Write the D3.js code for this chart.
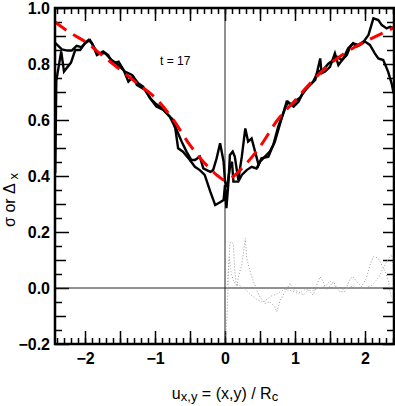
<!DOCTYPE html>
<html>
<head>
<meta charset="utf-8">
<script src="https://cdn.jsdelivr.net/npm/d3@7"></script>
<style>
  body { margin: 0; background: #fff; }
  svg text { font-family: "Liberation Sans", Arial, sans-serif; }
</style>
</head>
<body>
<div id="chart"></div>
<script>
// sigma / Delta_x profiles (u, value)
var sigmaU = [-2.43,-2.33,-2.25,-2.19,-2.12,-2.05,-2.0,-1.93,-1.86,-1.81,-1.71,-1.62,-1.55,-1.43,-1.33,-1.24,-1.17,-1.07,-1.0,-0.9,-0.81,-0.74,-0.69,-0.62,-0.55,-0.48,-0.43,-0.36,-0.31,-0.21,-0.17,-0.12,-0.07,-0.02,0.0,0.03,0.07,0.1,0.12,0.19,0.24,0.31,0.38,0.45,0.5,0.57,0.64,0.71,0.79,0.88,0.95,1.02,1.07,1.14,1.21,1.29,1.36,1.38,1.43,1.5,1.57,1.62,1.69,1.76,1.83,1.9,1.98,2.05,2.12,2.19,2.24,2.31,2.36,2.41];
var sigmaV = [0.876,0.852,0.848,0.848,0.865,0.86,0.874,0.886,0.856,0.838,0.838,0.814,0.802,0.773,0.761,0.731,0.719,0.678,0.66,0.642,0.618,0.6,0.564,0.523,0.487,0.457,0.457,0.469,0.427,0.415,0.421,0.463,0.517,0.451,0.38,0.36,0.43,0.451,0.38,0.38,0.404,0.421,0.433,0.427,0.451,0.469,0.487,0.52,0.59,0.665,0.654,0.671,0.679,0.707,0.725,0.743,0.82,0.767,0.773,0.79,0.838,0.796,0.82,0.856,0.874,0.868,0.88,0.904,0.963,0.957,0.939,0.927,0.933,0.927];

var deltaU = [-2.425,-2.41,-2.34,-2.3,-2.2,-2.14,-2.07,-2.0,-1.95,-1.9,-1.83,-1.74,-1.67,-1.6,-1.52,-1.45,-1.38,-1.31,-1.26,-1.14,-1.05,-0.98,-0.88,-0.79,-0.74,-0.71,-0.67,-0.6,-0.52,-0.43,-0.36,-0.29,-0.21,-0.14,-0.07,-0.02,0.0,0.02,0.05,0.07,0.11,0.14,0.19,0.24,0.29,0.33,0.38,0.43,0.48,0.52,0.62,0.69,0.76,0.86,0.9,0.98,1.05,1.1,1.17,1.26,1.33,1.4,1.48,1.55,1.6,1.67,1.74,1.79,1.83,1.88,1.93,2.0,2.07,2.14,2.19,2.26,2.33,2.38,2.41];
var deltaV = [0.41,0.74,0.845,0.773,0.805,0.85,0.85,0.874,0.886,0.874,0.832,0.845,0.832,0.802,0.808,0.779,0.737,0.755,0.725,0.707,0.671,0.648,0.636,0.612,0.588,0.57,0.499,0.487,0.463,0.433,0.421,0.404,0.344,0.296,0.306,0.314,0.368,0.285,0.38,0.475,0.487,0.469,0.386,0.469,0.57,0.523,0.534,0.487,0.439,0.463,0.469,0.511,0.576,0.642,0.665,0.648,0.665,0.69,0.713,0.737,0.773,0.779,0.802,0.814,0.826,0.814,0.832,0.862,0.874,0.862,0.868,0.88,0.868,0.838,0.82,0.814,0.773,0.731,0.695];

// model curve (red dashed)
var modelU = [-2.43,-2.2,-2.0,-1.75,-1.5,-1.25,-1.0,-0.75,-0.5,-0.25,-0.1,0.0,0.1,0.25,0.5,0.75,1.0,1.25,1.5,1.75,2.0,2.25,2.41];
var modelV = [0.95,0.91,0.88,0.83,0.78,0.73,0.68,0.605,0.51,0.435,0.40,0.385,0.395,0.43,0.505,0.60,0.67,0.74,0.80,0.845,0.88,0.91,0.93];

// residuals (grey dotted), right half only
var resid1U = [0.01,0.03,0.05,0.07,0.1,0.12,0.14,0.17,0.19,0.24,0.29,0.31,0.36,0.4,0.45,0.5,0.57,0.64,0.71,0.74,0.79,0.86,0.93,0.98,1.05,1.12,1.19,1.26,1.31,1.36,1.4,1.45,1.55,1.6,1.64,1.71,1.79,1.83,1.88,1.95,2.02,2.07,2.12,2.19,2.24,2.29,2.33,2.36,2.38];
var resid1V = [-0.17,-0.10,0.06,0.16,0.165,0.154,0.058,0.0,0.04,0.082,0.177,0.106,0.058,0.029,-0.007,-0.031,-0.055,-0.049,-0.067,-0.085,-0.043,-0.013,0.017,-0.007,-0.013,-0.025,-0.007,-0.025,0.011,0.04,0.023,-0.007,0.023,-0.001,-0.013,-0.013,0.035,0.04,0.023,0.005,0.035,0.082,0.112,0.106,0.082,0.058,0.029,-0.013,-0.037];
var resid2U = [0.03,0.06,0.09,0.13,0.2,0.27,0.35,0.45,0.55,0.65,0.75,0.85,0.95,1.05,1.15,1.25,1.35,1.45,1.5,1.6,1.7,1.8,1.9,2.0,2.1,2.2,2.3,2.38,2.41];
var resid2V = [0.0,0.11,0.05,0.02,0.01,0.0,-0.02,-0.04,-0.05,-0.03,-0.02,-0.005,-0.01,-0.02,-0.005,-0.01,0.0,0.01,0.025,0.0,-0.005,0.005,0.0,0.0,0.01,0.04,0.09,0.12,0.06];

var yMajor = [-0.2, 0.0, 0.2, 0.4, 0.6, 0.8, 1.0];
var xMajor = [-2, -1, 0, 1, 2];

var fullWidth = 395, fullHeight = 406;
var margin = {top: 8, right: 1, bottom: 62, left: 55};
var width = fullWidth - margin.left - margin.right;
var height = fullHeight - margin.top - margin.bottom;

var xScale = d3.scaleLinear().domain([-2.4286, 2.4143]).range([0, width]);
var yScale = d3.scaleLinear().domain([-0.2, 1.0]).range([height, 0]);

var svg = d3.select("#chart").append("svg")
  .attr("width", fullWidth).attr("height", fullHeight);
var g = svg.append("g").attr("transform", "translate(" + margin.left + "," + margin.top + ")");

function pairs(us, vs){
  return us.map(function(u, i){ return [u, vs[i]]; });
}
function fmt(d){ return d3.format(".1f")(d).replace("-", "\u2212"); }

var yMinor = d3.range(-0.2, 1.0001, 0.05).filter(function(v){ return Math.abs(v*10 - Math.round(v*10)) > 0.01; });
var yMid = d3.range(-0.1, 1.0001, 0.2);
var xMinor = d3.range(-2.4, 2.4001, 0.1);
var xHalf = [-2, -1.5, -1, -0.5, 0, 0.5, 1, 1.5, 2];

// ticks on all four sides, pointing in
function tickAxes(){
  g.append("g").call(d3.axisLeft(yScale).tickValues(yMinor).tickSize(-7).tickFormat(""));
  g.append("g").call(d3.axisLeft(yScale).tickValues(yMid).tickSize(-11).tickFormat(""));
  g.append("g").attr("transform", "translate(" + width + ",0)")
    .call(d3.axisRight(yScale).tickValues(yMinor).tickSize(-7).tickFormat(""));
  g.append("g").attr("transform", "translate(" + width + ",0)")
    .call(d3.axisRight(yScale).tickValues(yMid.concat(yMajor)).tickSize(-11).tickFormat(""));
  g.append("g").attr("transform", "translate(0," + height + ")")
    .call(d3.axisBottom(xScale).tickValues(xMinor).tickSize(-6).tickFormat(""));
  g.append("g").attr("transform", "translate(0," + height + ")")
    .call(d3.axisBottom(xScale).tickValues(xHalf).tickSize(-13).tickFormat(""));
  g.append("g").call(d3.axisTop(xScale).tickValues(xMinor).tickSize(-6).tickFormat(""));
  g.append("g").call(d3.axisTop(xScale).tickValues(xHalf).tickSize(-13).tickFormat(""));

  var yAx = g.append("g").call(d3.axisLeft(yScale).tickValues(yMajor).tickSize(-14).tickPadding(5).tickFormat(fmt));
  var xAx = g.append("g").attr("transform", "translate(0," + height + ")")
    .call(d3.axisBottom(xScale).tickValues(xMajor).tickSize(0).tickPadding(9).tickFormat(function(d){ return d3.format("d")(d).replace("-", "\u2212"); }));
  [yAx, xAx].forEach(function(a){
    a.selectAll("text").style("font-size", "16px").style("font-weight", "bold").attr("fill", "#000");
  });
  g.selectAll(".domain").remove();
  g.selectAll(".tick line").attr("stroke", "#000").attr("stroke-width", 1.5);
}
tickAxes();

// zero lines
g.append("line").attr("x1", xScale(0)).attr("x2", xScale(0)).attr("y1", 0).attr("y2", height)
  .attr("stroke", "#222").attr("stroke-width", 1);
g.append("line").attr("x1", 0).attr("x2", width).attr("y1", yScale(0)).attr("y2", yScale(0))
  .attr("stroke", "#222").attr("stroke-width", 1);

var line = d3.line()
  .x(function(d){ return xScale(d[0]); })
  .y(function(d){ return yScale(d[1]); });

g.append("path").datum(pairs(resid1U, resid1V)).attr("d", line)
  .attr("fill", "none").attr("stroke", "#999").attr("stroke-width", 1).attr("stroke-dasharray", "1,2");
g.append("path").datum(pairs(resid2U, resid2V)).attr("d", line)
  .attr("fill", "none").attr("stroke", "#aaa").attr("stroke-width", 1).attr("stroke-dasharray", "1,2");

g.append("path").datum(pairs(sigmaU, sigmaV)).attr("d", line)
  .attr("fill", "none").attr("stroke", "#000").attr("stroke-width", 2.4).attr("stroke-linejoin", "miter");
g.append("path").datum(pairs(deltaU, deltaV)).attr("d", line)
  .attr("fill", "none").attr("stroke", "#000").attr("stroke-width", 2.4).attr("stroke-linejoin", "miter");

g.append("path").datum(pairs(modelU, modelV)).attr("d", line.curve(d3.curveMonotoneX))
  .attr("fill", "none").attr("stroke", "#f00").attr("stroke-width", 3).attr("stroke-dasharray", "14,8");

// frame
g.append("rect").attr("width", width).attr("height", height)
  .attr("fill", "none").attr("stroke", "#000").attr("stroke-width", 2.5);

svg.append("text").attr("x", 160).attr("y", 65).style("font-size", "12px").text("t = 17");

// axis titles
var xt = svg.append("text").attr("x", 225).attr("y", 399).attr("text-anchor", "middle").style("font-size", "16px");
xt.append("tspan").text("u");
xt.append("tspan").attr("dy", 2).style("font-size", "13px").text("x,y");
xt.append("tspan").attr("dy", -2).text(" = (x,y) / R");
xt.append("tspan").attr("dy", 2).style("font-size", "13px").text("c");

var yt = svg.append("text").attr("transform", "translate(15,200) rotate(-90)").attr("text-anchor", "middle").style("font-size", "16px");
yt.append("tspan").text("\u03c3 or \u0394");
yt.append("tspan").attr("dy", 3).style("font-size", "13px").text(" x");
</script>
</body>
</html>
